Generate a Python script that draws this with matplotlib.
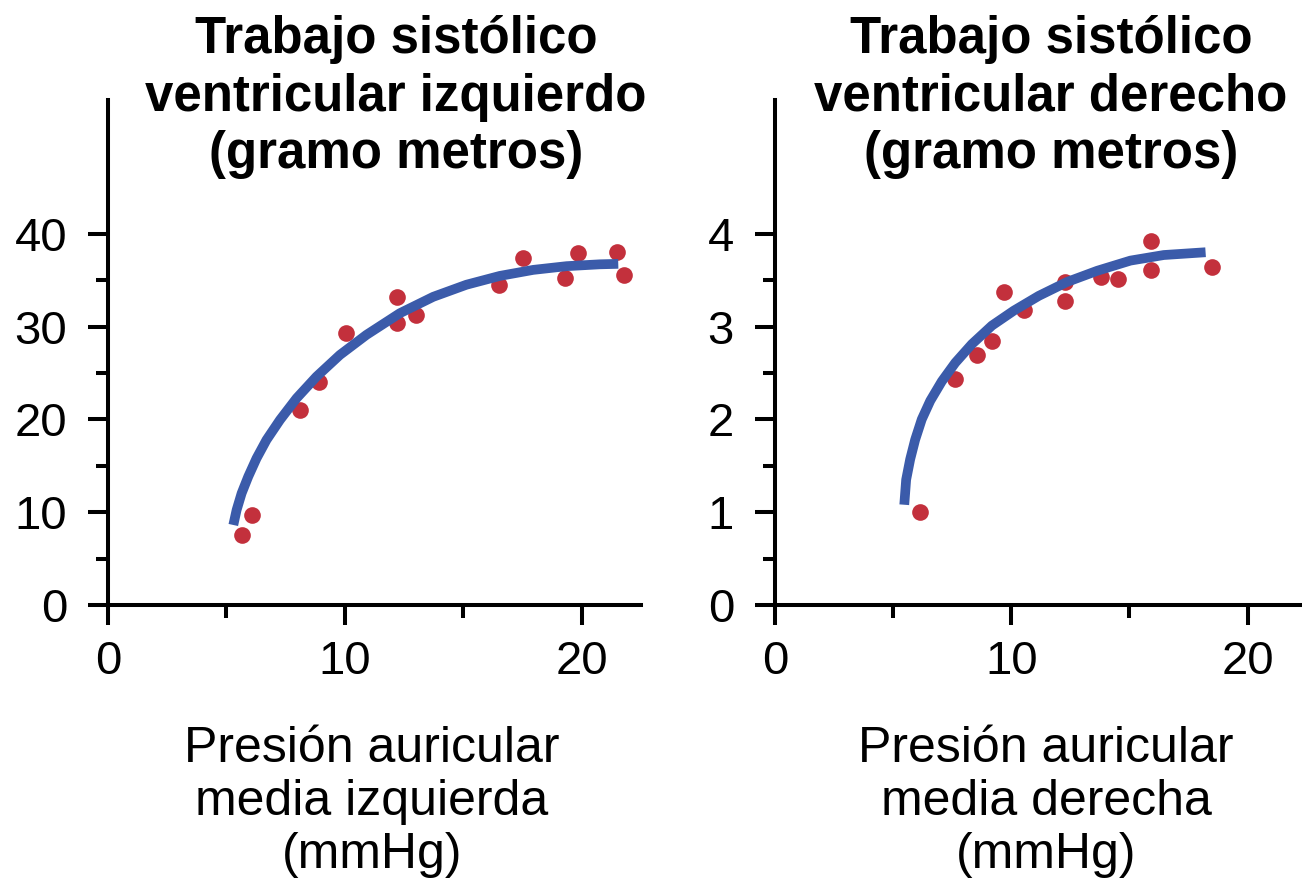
import matplotlib
matplotlib.use("Agg")
import matplotlib.pyplot as plt
from matplotlib.ticker import FixedLocator

plt.rcParams['font.family'] = ['Liberation Sans', 'DejaVu Sans']

# Left panel data
left_x = [5.64, 6.06, 8.1, 8.9, 10.03, 12.2, 12.2, 13.0, 16.5, 17.5, 19.3, 19.85, 21.5, 21.8]
left_y = [7.5, 9.7, 21.0, 24.0, 29.3, 33.2, 30.4, 31.2, 34.5, 37.4, 35.2, 37.9, 38.0, 35.6]
# Left fitted curve
left_curve_x = [5.29, 5.43, 5.64, 5.92, 6.27, 6.69, 7.26, 7.96, 8.80, 9.79, 10.91,
                12.32, 13.73, 15.13, 16.54, 17.95, 19.36, 20.76, 21.54]
left_curve_y = [8.62, 10.24, 12.03, 13.83, 15.8, 17.78, 19.94, 22.27, 24.6, 26.94, 29.1,
                31.43, 33.2, 34.5, 35.45, 36.1, 36.5, 36.7, 36.75]

# Right panel data
right_x = [6.12, 7.63, 8.55, 9.18, 9.70, 10.52, 12.29, 12.29, 13.8, 14.5, 15.9, 15.9, 18.5]
right_y = [1.00, 2.43, 2.69, 2.84, 3.37, 3.18, 3.48, 3.27, 3.53, 3.51, 3.92, 3.61, 3.64]
right_curve_x = [5.47, 5.55, 5.72, 5.93, 6.21, 6.57, 7.06, 7.63, 8.33, 9.18, 10.10,
                 11.16, 12.36, 13.63, 15.04, 16.45, 18.22]
right_curve_y = [1.08, 1.35, 1.57, 1.78, 2.0, 2.20, 2.41, 2.61, 2.81, 3.01, 3.17,
                 3.33, 3.48, 3.60, 3.71, 3.77, 3.80]

left_yticks = [0, 10, 20, 30, 40]
left_yminor = [5, 15, 25, 35]
right_yticks = [0, 1, 2, 3, 4]
right_yminor = [0.5, 1.5, 2.5, 3.5]
xticks = [0, 10, 20]
xminor = [5, 15]

left_title = "Trabajo sistólico\nventricular izquierdo\n(gramo metros)"
right_title = "Trabajo sistólico\nventricular derecho\n(gramo metros)"
left_xlabel = "Presión auricular\nmedia izquierda\n(mmHg)"
right_xlabel = "Presión auricular\nmedia derecha\n(mmHg)"

RED = '#C3303C'
BLUE = '#3B5BAA'

W, H = 1302, 884
fig = plt.figure(figsize=(W / 100, H / 100), dpi=100)

ax1 = fig.add_axes([108 / W, 1 - 605 / H, 533 / W, 505 / H])
ax2 = fig.add_axes([775 / W, 1 - 605 / H, 527 / W, 505 / H])


def style(ax, xlim, ylim, yticks, yminor):
    ax.set_xlim(*xlim)
    ax.set_ylim(*ylim)
    for s in ['top', 'right']:
        ax.spines[s].set_visible(False)
    for s in ['left', 'bottom']:
        ax.spines[s].set_linewidth(2.9)
    ax.set_xticks(xticks)
    ax.xaxis.set_minor_locator(FixedLocator(xminor))
    ax.set_yticks(yticks)
    ax.yaxis.set_minor_locator(FixedLocator(yminor))
    ax.tick_params(which='major', length=14.5, width=2.9, labelsize=34)
    ax.tick_params(axis='y', which='major', pad=15)
    ax.tick_params(axis='x', which='major', pad=11)
    ax.tick_params(which='minor', length=9, width=2.9)
    ax.patch.set_alpha(0)


ax1.plot(left_x, left_y, 'o', color=RED, markersize=12, markeredgewidth=0, zorder=3, clip_on=False)
ax1.plot(left_curve_x, left_curve_y, '-', color=BLUE, linewidth=7, solid_capstyle='butt',
         solid_joinstyle='round', zorder=4)
style(ax1, (0, 22.5), (0, 54.4), left_yticks, left_yminor)

ax2.plot(right_x, right_y, 'o', color=RED, markersize=12, markeredgewidth=0, zorder=3, clip_on=False)
ax2.plot(right_curve_x, right_curve_y, '-', color=BLUE, linewidth=7, solid_capstyle='butt',
         solid_joinstyle='round', zorder=4)
style(ax2, (0, 22.3), (0, 5.44), right_yticks, right_yminor)

fig.text(396 / W, 1 - 97 / H, left_title, ha='center', va='center', fontsize=36.7,
         fontweight='bold', linespacing=1.22, multialignment='center')
fig.text(1051 / W, 1 - 97 / H, right_title, ha='center', va='center', fontsize=36.7,
         fontweight='bold', linespacing=1.22, multialignment='center')

fig.text(372 / W, 1 - 802 / H, left_xlabel, ha='center', va='center', fontsize=36,
         linespacing=1.19, multialignment='center')
fig.text(1046 / W, 1 - 802 / H, right_xlabel, ha='center', va='center', fontsize=36,
         linespacing=1.19, multialignment='center')

fig.savefig('out.png', dpi=100)
